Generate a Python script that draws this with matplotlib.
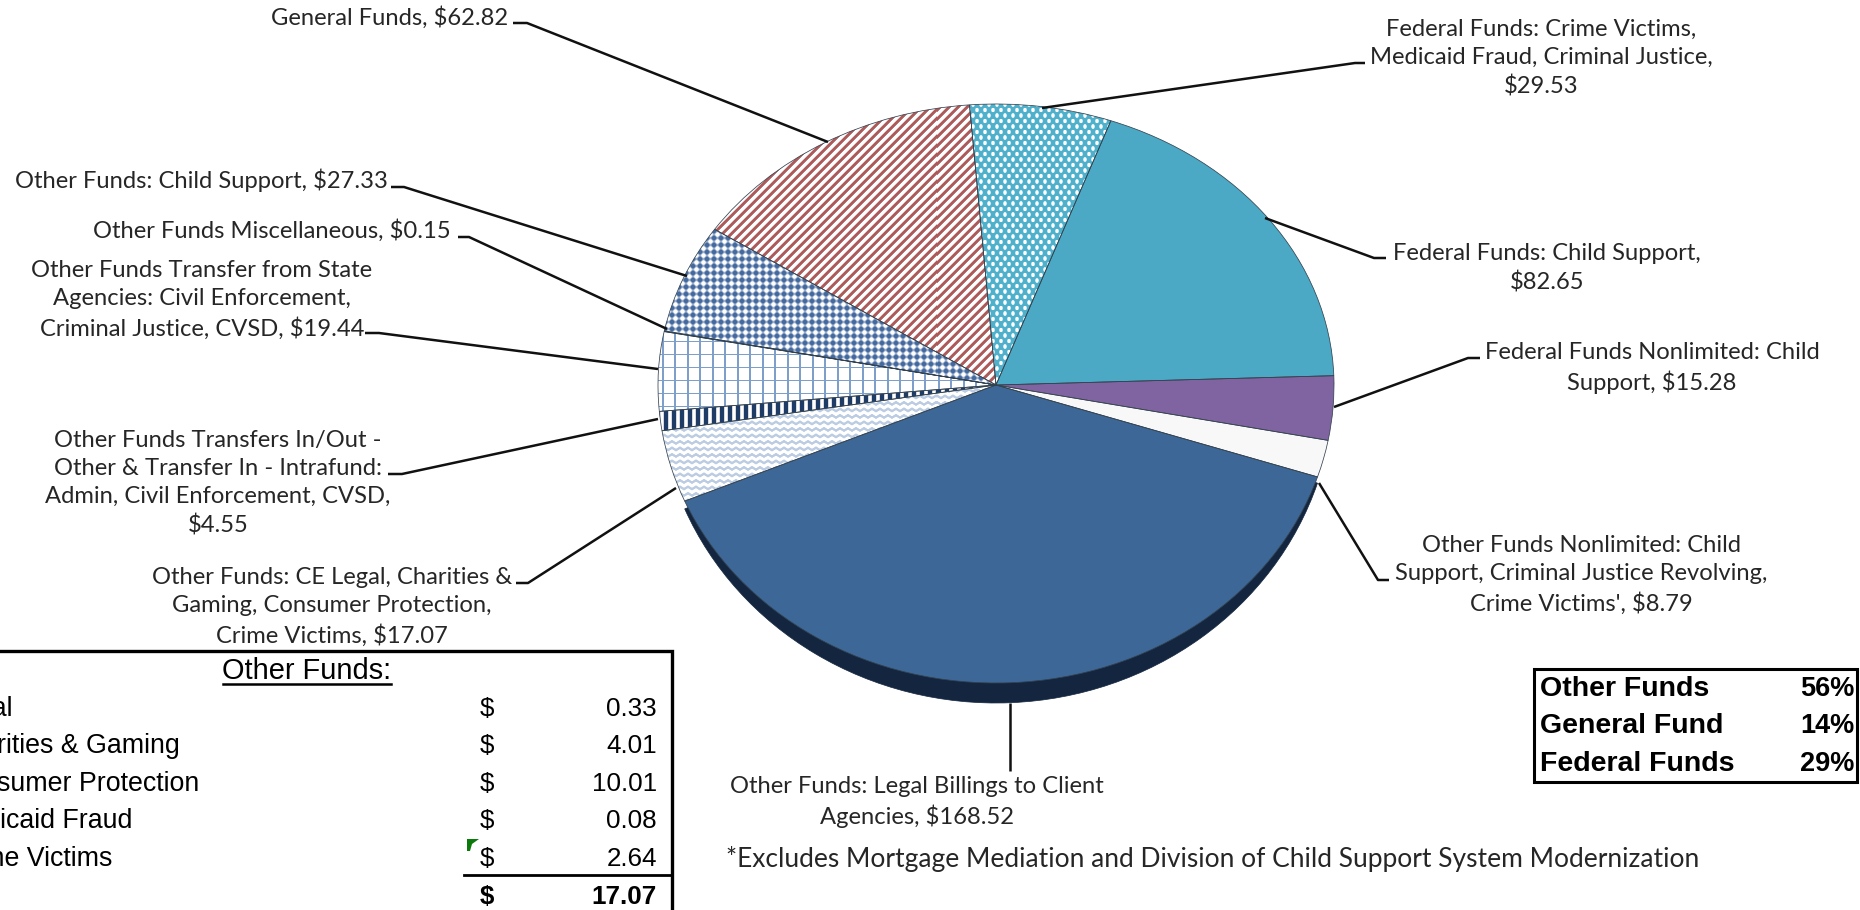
import numpy as np
import matplotlib
matplotlib.use("Agg")
import matplotlib.pyplot as plt
from matplotlib.patches import PathPatch, Polygon
from matplotlib.path import Path

# slices, clockwise from the top of the pie
names = ["Federal Funds: Crime Victims,\nMedicaid Fraud, Criminal Justice,\n",
         "Federal Funds: Child Support,\n",
         "Federal Funds Nonlimited: Child\nSupport, ",
         "Other Funds Nonlimited: Child\nSupport, Criminal Justice Revolving,\nCrime Victims', ",
         "Other Funds: Legal Billings to Client\nAgencies, ",
         "Other Funds: CE Legal, Charities &\nGaming, Consumer Protection,\nCrime Victims, ",
         "Other Funds Transfers In/Out -\nOther & Transfer In - Intrafund:\nAdmin, Civil Enforcement, CVSD,\n",
         "Other Funds Transfer from State\nAgencies: Civil Enforcement,\nCriminal Justice, CVSD, ",
         "Other Funds Miscellaneous, ",
         "Other Funds: Child Support, ",
         "General Funds, "]
values = [29.53, 82.65, 15.28, 8.79, 168.52, 17.07, 4.55, 19.44, 0.15, 27.33, 62.82]

table_names = ["Legal", "Charities & Gaming", "Consumer Protection", "Medicaid Fraud", "Crime Victims"]
table_values = [0.33, 4.01, 10.01, 0.08, 2.64]
table_total = 17.07

summary_names = ["Other Funds", "General Fund", "Federal Funds"]
summary_pct = [56, 14, 29]

footnote = "*Excludes Mortgage Mediation and Division of Child Support System Modernization"

# layout, all in image pixels
W, H = 1860, 910
cx, cy, rx, ry_up, ry_low, depth = 996, 385, 338, 281, 298, 20
label_font = "Lato"
label_size = 17.1
table_font = "Liberation Sans"

label_pos = [(1541, 58), (1547, 268), (1652, 368), (1581, 575), (917, 802), (332, 607),
             (218, 483), (202, 300), (272, 231), (201, 180), (390, 18)]
leaders = [[(1365, 63), (1355, 63), (1042, 108)],
           [(1386, 258), (1374, 258), (1265, 218)],
           [(1480, 358), (1468, 358), (1334, 407)],
           [(1389, 580), (1378, 580), (1319, 483)],
           [(1010, 703), (1010, 771)],
           [(516, 583), (528, 583), (676, 488)],
           [(388, 474), (402, 474), (658, 419)],
           [(365, 333), (379, 333), (658, 369)],
           [(458, 237), (469, 237), (667, 329)],
           [(391, 187), (404, 187), (687, 276)],
           [(513, 23), (527, 23), (828, 142)]]


# hatch textures, ink amount 0..1 on a pixel grid
def soft(a, w=0.35):
    return np.clip(a / w + 0.5, 0, 1)

def tex_lattice(x, y):
    return 1 - soft(np.cos(2*np.pi*(x/8 + y/11))*0.5 + np.cos(2*np.pi*(x/8 - y/11))*0.5 - 0.3)

def tex_diag(x, y):
    return soft(np.sin(2*np.pi*(x + y)/9) - 0.1, 0.8)

def tex_checker(x, y):
    return soft(np.cos(2*np.pi*(x + y)/14)*np.cos(2*np.pi*(x - y)/14) + 0.05, 0.9)

def tex_grid(x, y):
    a = np.abs(((x + 6) % 12.5) - 6.25) < 1.0
    b = np.abs(((y + 3) % 13) - 6.5) < 1.0
    return np.maximum(a, b)*1.0

def tex_vert(x, y):
    return soft(np.sin(2*np.pi*x/8) + 0.1, 0.9)

def tex_wave(x, y):
    return soft(np.sin(2*np.pi*(y + 2*np.abs(((x % 8)/4) - 1)*1.2)/6.5) - 0.2, 0.8)*0.58

# face of each slice: colour, ink texture
styles = [("#4fb0cb", tex_lattice), ("#4ba9c5", None), ("#8063a1", None), ("#f8f8f8", None),
          ("#3d6796", None), ("#8ba8d0", tex_wave), ("#1f3c66", tex_vert), ("#7f9fcb", tex_grid),
          ("#1f3c66", None), ("#44699f", tex_checker), ("#ad5a5a", tex_diag)]

fig, ax = plt.subplots(figsize=(W/100, H/100), dpi=100)
fig.subplots_adjust(0, 0, 1, 1)
wedges, _ = ax.pie(values, startangle=94.5, counterclock=False, radius=1)

# reshape the round pie into the tilted one of the picture
paths = []
for w in wedges:
    p = w.get_patch_transform().transform_path(w.get_path())
    paths.append((p.vertices.copy(), p.codes))
    w.remove()

def face(verts, codes, low):
    v = verts.copy()
    v[:, 0] = cx + rx*verts[:, 0]
    v[:, 1] = cy - np.where(verts[:, 1] > 0, ry_up, low)*verts[:, 1]
    return Path(v, codes)

ax.set_aspect("auto")
ax.add_patch(PathPatch(face(*paths[4], ry_low + depth), fc="#14263f", ec="#14263f", lw=0.5, zorder=1))

gx, gy = np.meshgrid(np.arange(W) + 0.5, np.arange(H) + 0.5)
for (verts, codes), (col, tex) in zip(paths, styles):
    path = face(verts, codes, ry_low)
    if tex is None:
        ax.add_patch(PathPatch(path, fc=col, ec="none", zorder=2))
    else:
        ink = tex(gx, gy)[..., None]
        rgb = np.array(matplotlib.colors.to_rgb(col))
        im = ax.imshow(ink*rgb + (1 - ink), extent=(0, W, H, 0), aspect="auto", zorder=2, interpolation="nearest")
        im.set_clip_path(PathPatch(path, transform=ax.transData))
    ax.add_patch(PathPatch(path, fc="none", ec="#33424f", lw=0.55, zorder=3))

# leader lines and slice labels
for pts in leaders:
    ax.plot(*zip(*pts), color="#111111", lw=1.8, zorder=4, solid_capstyle="butt")
for name, val, (x, y) in zip(names, values, label_pos):
    ax.text(x, y, f"{name}${val:.2f}", ha="center", va="center", fontsize=label_size, family=label_font,
            color="#262626", linespacing=1.42, parse_math=False, zorder=5)
ax.text(726, 859, footnote, ha="left", va="center", fontsize=19, family=label_font,
        color="#262626", parse_math=False)

# other funds table, cut off by the left edge
ax.add_patch(Polygon([(-5, 651), (672, 651), (672, 915)], closed=False, fc="none", ec="black", lw=2.4))
ax.text(307, 671, "Other Funds:", ha="center", va="center", fontsize=20.9, family=table_font, parse_math=False)
ax.plot([223, 391], [684, 684], color="black", lw=1.8)
rows = [709, 746, 784, 821, 859]
for name, val, y in zip(table_names, table_values, rows):
    ax.text(-52, y, name, ha="left", va="center", fontsize=19.3, family=table_font, parse_math=False)
    ax.text(487, y, "$", ha="center", va="center", fontsize=18.7, family=table_font, parse_math=False)
    ax.text(657, y, f"{val:.2f}", ha="right", va="center", fontsize=18.7, family=table_font)
ax.plot([464, 672], [875, 875], color="black", lw=2)
ax.text(487, 897, "$", ha="center", va="center", fontsize=18.7, family=table_font, weight="bold", parse_math=False)
ax.text(657, 897, f"{table_total:.2f}", ha="right", va="center", fontsize=18.7, family=table_font, weight="bold")
ax.add_patch(Polygon([(467, 839), (479, 839), (472, 844), (470, 851), (467, 851)], fc="#0b7a0b", ec="none"))

# share box
ax.add_patch(Polygon([(1534, 669), (1857, 669), (1857, 782), (1534, 782)], closed=True, fc="white", ec="black", lw=2.2))
for name, pct, y in zip(summary_names, summary_pct, [689, 726, 764]):
    ax.text(1540, y, name, ha="left", va="center", fontsize=20.5, family=table_font, weight="bold")
    ax.text(1854, y, f"{pct}%", ha="right", va="center", fontsize=19.5, family=table_font, weight="bold")

ax.set_xlim(0, W)
ax.set_ylim(H, 0)
ax.axis("off")
fig.savefig("out.png", dpi=100)
